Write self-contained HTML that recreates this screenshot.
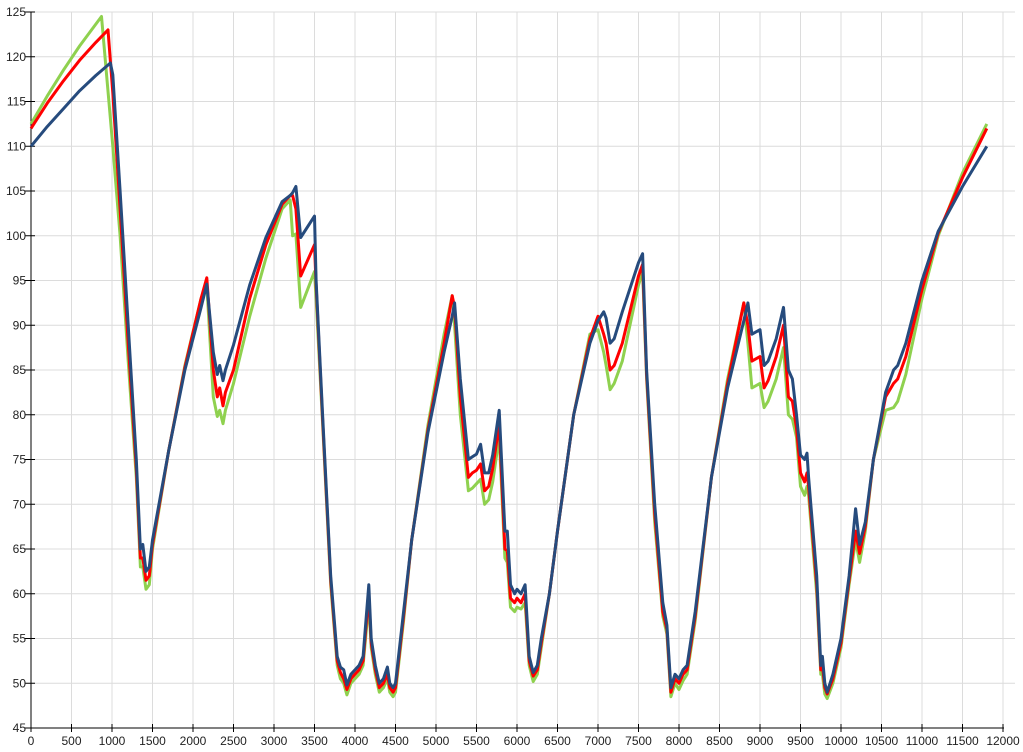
<!DOCTYPE html>
<html><head><meta charset="utf-8"><style>
html,body{margin:0;padding:0;background:#fff;}
svg{display:block;}
text{font-family:"Liberation Sans",sans-serif;font-size:12px;fill:#222;}
</style></head><body>
<svg id="s" width="1023" height="752" xmlns="http://www.w3.org/2000/svg"></svg>
<script>
const s=document.getElementById('s');
const X=v=>31+v*0.0810, Y=v=>728-(v-45)*8.95;
let h='';
for(let x=500;x<=12000;x+=500)h+=`<line x1="${X(x)}" y1="${Y(125)}" x2="${X(x)}" y2="728" stroke="#dcdcdc" stroke-width="1"/>`;
for(let y=50;y<=125;y+=5)h+=`<line x1="31" y1="${Y(y)}" x2="1015" y2="${Y(y)}" stroke="#dcdcdc" stroke-width="1"/>`;
h+=`<line x1="31" y1="${Y(125)}" x2="31" y2="729" stroke="#000"/><line x1="30" y1="728" x2="1004" y2="728" stroke="#000"/>`;
for(let y=45;y<=125;y+=5){h+=`<line x1="25" y1="${Y(y)}" x2="35" y2="${Y(y)}" stroke="#000"/><text x="26" y="${Y(y)+4}" text-anchor="end">${y}</text>`;}
for(let x=0;x<=12000;x+=500){h+=`<line x1="${X(x)}" y1="724" x2="${X(x)}" y2="732" stroke="#000"/><text x="${X(x)}" y="745" text-anchor="middle">${x}</text>`;}
const start={b:[[0,110],[200,112.2],[400,114.2],[600,116.2],[800,117.9],[980,119.3]],
r:[[0,112],[200,114.8],[400,117.3],[600,119.6],[800,121.6],[950,123]],
g:[[0,112.5],[200,115.6],[400,118.5],[600,121.2],[870,124.5]]};
// x, blue, red, green
const P=[[1010,118,116,110],[1100,105,103,100],[1200,90,88,86],[1300,75,74,73],[1350,65,64,63],[1380,65.5,64,63],[1420,62.5,61.5,60.5],[1460,63,62,61],[1500,66,65.5,65],
[1700,76,76,76],[1900,85,85.3,85.5],[2100,92,93,93],[2170,94.6,95.3,94.5],[2250,87,85,82],[2300,84.5,82,79.8],[2330,85.5,83,80.5],[2370,83.8,81,79],[2400,85,82.5,80.5],[2500,87.8,85,83.5],
[2700,94.5,93,91],[2900,99.8,99,97.5],[3100,103.8,103.5,103],[3200,104.5,104.5,104],[3230,104.8,104.5,100],[3270,105.5,103,100.2],[3330,99.8,95.5,92],[3500,102.2,99,96],[3520,95,94.5,93],
[3600,80,79.5,79],[3700,62,61.5,61],[3780,53,52.5,52],[3820,51.8,51.2,50.5],[3860,51.5,50.5,50],[3900,49.8,49.3,48.7],[3950,51,50.5,50],[4050,52,51.5,51],[4100,53,52.5,52],[4170,61,60,59],[4200,55,54.5,54],[4250,52,51.5,51],[4300,50,49.5,49],[4350,50.5,50,49.5],[4400,51.8,51,50.5],[4430,50,49.5,49],[4470,49.5,49,48.5],[4500,50,49.5,49],
[4600,58,57.5,57],[4700,66,66,66],[4900,78,78.3,78.8],[5100,87,88,89],[5200,91,93.3,93.3],[5230,92.5,92,90],[5300,84,82,80],[5400,75,73,71.5],[5450,75.3,73.5,71.8],[5500,75.6,73.8,72.3],[5550,76.7,74.5,72.8],[5600,73.5,71.5,70],[5650,73.5,72,70.5],[5700,75.5,74,72.5],[5780,80.5,79,77.5],
[5850,67,65,64],[5880,67,64.8,63.5],[5920,61,59.5,58.5],[5970,60,59,58],[6000,60.5,59.5,58.5],[6050,60,59,58.3],[6100,61,60,59],[6150,53,52.5,52],[6200,51.2,50.8,50.2],[6250,52,51.5,51],[6300,55,54.5,54],
[6400,60,60,60],[6500,67,67,67],[6700,80,80,80],[6900,88,88.5,89],[7000,90.5,91,89.5],[7070,91.5,89,87],[7100,90.8,88,85.5],[7150,88,85,82.8],[7200,88.5,85.5,83.5],[7300,91.5,88,86],[7500,97,95.5,94.5],[7550,98,96.8,96],
[7600,85,84.5,84],[7700,70,69,68],[7800,59,58,57.5],[7850,56.5,56,55.5],[7900,49.5,49,48.5],[7950,51,50.5,50],[8000,50.5,50,49.3],[8050,51.5,51,50.3],[8100,52,51.5,51],[8200,58,57.5,57],
[8400,73,73,73],[8600,83,83.5,84],[8800,90.5,92.5,92.5],[8850,92.5,90,88],[8900,89,86,83],[9000,89.5,86.5,83.5],[9050,85.5,83,80.8],[9100,86,83.8,81.5],[9200,88.5,86.5,84],[9290,92,90,87.5],[9350,85,82,80],[9400,84,81.5,79.5],[9450,80,78.5,77.5],[9500,75.5,73.5,72],[9550,75,72.5,71],[9580,75.7,73.5,72],[9600,73,72,71],
[9700,62,61,60],[9750,52,51.5,51],[9770,53,52,51],[9800,50,49.5,48.8],[9830,49,48.8,48.3],[9900,51,50.5,50],[10000,55,54.5,54],[10100,62,61.5,61],[10180,69.5,67,66],[10230,65.5,64.5,63.5],[10300,68,67.5,67],[10400,75,75,75],
[10550,82.5,82,80.5],[10650,85,83.5,80.8],[10700,85.5,84,81.5],[10800,88,86.5,84.5],[11000,95,94,93],[11200,100.5,100.3,100],[11500,105.5,106.5,107],[11800,110,112,112.5]];
function path(st,i){let pts=st.concat(P.map(p=>[p[0],p[i]]));return 'M'+pts.map(p=>X(p[0]).toFixed(1)+','+Y(p[1]).toFixed(1)).join('L');}
h+=`<path d="${path(start.g,3)}" fill="none" stroke="#8fd14f" stroke-width="3" stroke-linejoin="round"/>`;
h+=`<path d="${path(start.r,2)}" fill="none" stroke="#ff0000" stroke-width="3" stroke-linejoin="round"/>`;
h+=`<path d="${path(start.b,1)}" fill="none" stroke="#264b7d" stroke-width="3" stroke-linejoin="round"/>`;
s.innerHTML=h;
</script>
</body></html>
